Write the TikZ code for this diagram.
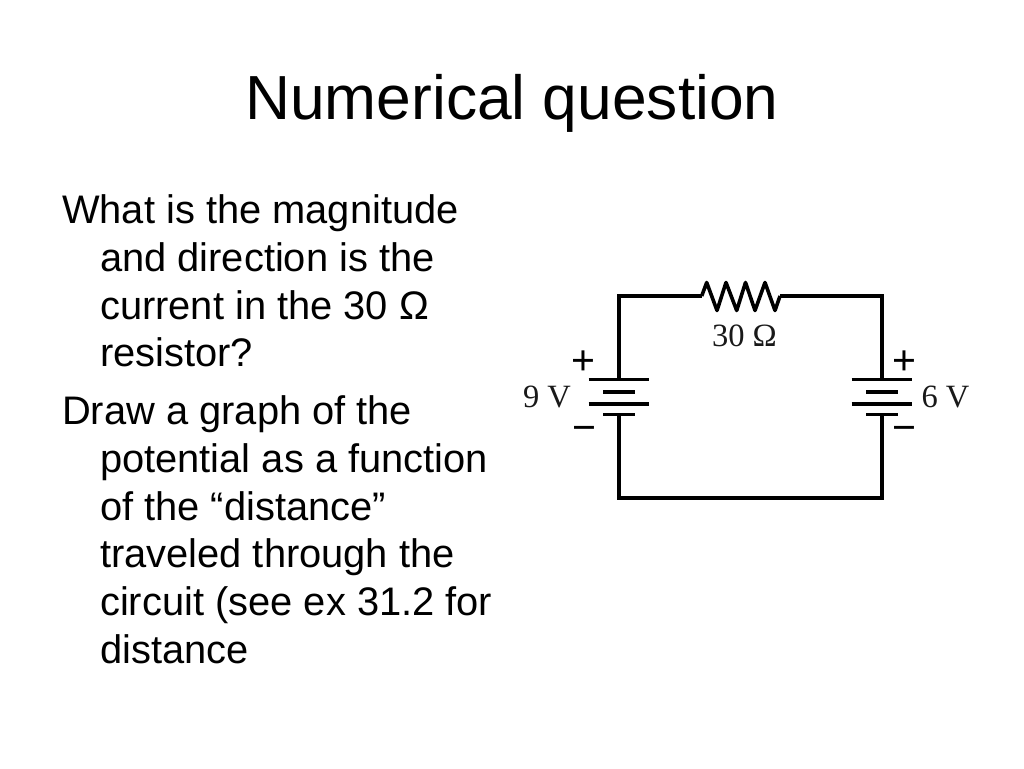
\documentclass[tikz,border=0pt]{standalone}
\usepackage{fontspec}
\setmainfont{Liberation Sans}
\newfontfamily\serifcap{Liberation Serif}
\tikzset{
  x=1pt,y=-1pt,
  wire/.style={line width=3.6pt,line cap=butt,line join=miter,black},
  zigzag/.style={line width=3.6pt,line cap=butt,line join=round,black},
  plate/.style={line width=3.6pt,black},
  title/.style={anchor=base,inner sep=0pt,font=\fontsize{62.3}{62.3}\selectfont},
  body/.style={anchor=base west,inner sep=0pt,font=\fontsize{39.85}{39.85}\selectfont},
  circ/.style={inner sep=0pt,font=\serifcap\fontsize{32.5}{32.5}\selectfont,text=black!90},
  sign/.style={inner sep=0pt,font=\fontsize{41}{41}\selectfont},
}
\begin{document}
\begin{tikzpicture}
\useasboundingbox (0,0) rectangle (1024,768);
\fill[white] (0,0) rectangle (1024,768);
\node[title] (t) at (512,119) {Numerical question};
\node[body] (l1) at (62,223) {What is the magnitude};
\node[body] (l2) at (100,271) {and direction is the};
\node[body] (l3) at (100,319) {current in the 30 Ω};
\node[body] (l4) at (100,366) {resistor?};
\node[body] (l5) at (62,424) {Draw a graph of the};
\node[body] (l6) at (100,472) {potential as a function};
\node[body] (l7) at (100,520) {of the “distance”};
\node[body] (l8) at (100,567) {traveled through the};
\node[body] (l9) at (100,615) {circuit (see ex 31.2 for};
\node[body] (l10) at (100,663) {distance};
% circuit corners and terminals
\coordinate (tl) at (618.7,296);
\coordinate (tr) at (881.7,296);
\coordinate (bl) at (618.7,498);
\coordinate (br) at (881.7,498);
\coordinate (ra) at (701.7,296);
\coordinate (rb) at (780,296);
\coordinate (lp) at (618.7,379.3);
\coordinate (ln) at (618.7,414.3);
\coordinate (rp) at (881.7,379.3);
\coordinate (rn) at (881.7,414.3);
\draw[wire] (lp) -- (tl) -- (ra);
\draw[wire] (rb) -- (tr) -- (rp);
\draw[zigzag] (ra)
  -- (706.7,282.5) -- (717,310.5) -- (726,282.5) -- (736.7,310.5) -- (745.5,282.5)
  -- (755,310.5) -- (765,282.5) -- (775,310.5) -- (rb);
\draw[wire] (ln) -- (bl) -- (br) -- (rn);
% left battery
\draw[plate] (588.7,379.3) -- (649.3,379.3);
\draw[plate] (603,391.7) -- (635,391.7);
\draw[plate] (588.7,403.7) -- (649.3,403.7);
\draw[plate] (603,414.3) -- (635,414.3);
% right battery
\draw[plate] (851.5,379.3) -- (912.3,379.3);
\draw[plate] (866,391.7) -- (898,391.7);
\draw[plate] (851.5,403.7) -- (912.3,403.7);
\draw[plate] (866,414.3) -- (898,414.3);
% labels
\node[circ] (r) at (744.5,336) {30 Ω};
\node[circ] (v9) at (547,397) {9 V};
\node[circ] (v6) at (945.5,397) {6 V};
\node[sign] (pl) at (583.7,363) {+};
\node[sign] (ml) at (584,433.5) {−};
\node[sign] (pr) at (904.5,363) {+};
\node[sign] (mr) at (904.5,433.5) {−};
\end{tikzpicture}
\end{document}
